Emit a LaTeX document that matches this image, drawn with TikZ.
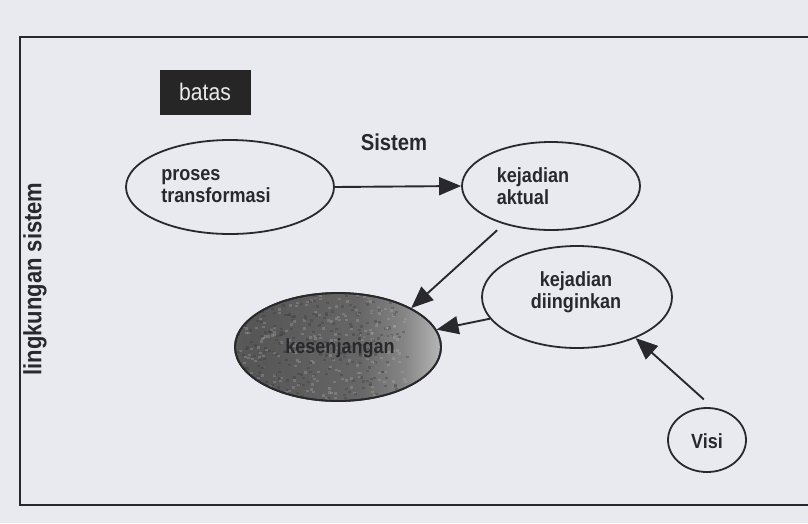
\documentclass[tikz,border=0pt]{standalone}
\usepackage{fontspec}
\setmainfont{Liberation Sans}[FakeStretch=0.88]
\usetikzlibrary{shapes.geometric,arrows.meta}
\definecolor{paper}{RGB}{233,234,240}
\definecolor{ink}{RGB}{40,40,45}
\pgfdeclarehorizontalshading{gapshade}{100bp}{color(0bp)=(black!60); color(30bp)=(black!66); color(55bp)=(black!60); color(66bp)=(black!48); color(78bp)=(black!22); color(100bp)=(black!10)}
\begin{document}
\begin{tikzpicture}[x=1pt,y=-1pt,
  bub/.style={ellipse,draw=ink,line width=1.8pt,inner sep=0pt},
  lbl/.style={font=\bfseries\fontsize{20.5}{22}\selectfont,text=ink,inner sep=0pt},
  arr/.style={draw=ink,line width=1.9pt,-{Triangle[length=22pt,width=18pt]}}]
\fill[paper] (0,0) rectangle (808,523);
\useasboundingbox (0,0) rectangle (808,523);
% outer frame (right side runs off the page)
\draw[ink,line width=2.2pt] (808,37) -- (20,37) -- (20,505) -- (808,505);
% labels
\node[fill=black!85,minimum width=91pt,minimum height=45pt,text=black!8,
      font=\fontsize{24}{26}\selectfont] (batas) at (205,92) {batas};
\node[lbl,font=\bfseries\fontsize{23}{26}\selectfont] (sistem) at (394,142) {Sistem};
\node[lbl,rotate=90,font=\bfseries\fontsize{25}{28}\selectfont] (ling) at (35,279) {lingkungan sistem};
% bubbles
\node[bub,minimum width=208pt,minimum height=94pt] (proses) at (230,187) {};
\node[lbl,align=left] (prosestxt) at (216,186) {proses\\transformasi};
\node[bub,minimum width=178pt,minimum height=88pt] (aktual) at (551,186) {};
\node[lbl,align=left] (aktualtxt) at (533,186) {kejadian\\aktual};
\node[bub,minimum width=190pt,minimum height=102pt] (ingin) at (577,297) {};
\node[lbl,align=center] (ingintxt) at (576,292) {kejadian\\diinginkan};
\node[bub,shading=gapshade,minimum width=206pt,minimum height=108pt] (gap) at (338,347) {};
\begin{scope}
  \clip (338,347) ellipse [x radius=102pt,y radius=53pt];
  \pgfmathsetseed{7}
  \foreach \i in {1,...,500}{
    \pgfmathsetmacro{\px}{236+170*rnd}
    \pgfmathsetmacro{\py}{293+108*rnd}
    \pgfmathsetmacro{\pc}{rnd>0.5 ? 80 : 30}
    \fill[black!\pc,opacity=0.3] (\px,\py) rectangle ++(3,2.4);
  }
\end{scope}
\node[bub,minimum width=206pt,minimum height=108pt] (gapline) at (338,347) {};
\node[lbl] (gaptxt) at (340,348) {kesenjangan};
\node[bub,minimum width=78pt,minimum height=64pt] (visi) at (707,440) {};
\node[lbl] (visitxt) at (707,441) {Visi};
% connectors
\draw[arr] (proses.east) -- (aktual.west);
\draw[arr,shorten <=9pt] (aktual.219) -- (gap.28);
\draw[arr] (ingin.194) -- (gap.10);
\draw[arr,shorten <=12pt] (visi.80) -- (ingin.-35);
\end{tikzpicture}
\end{document}
